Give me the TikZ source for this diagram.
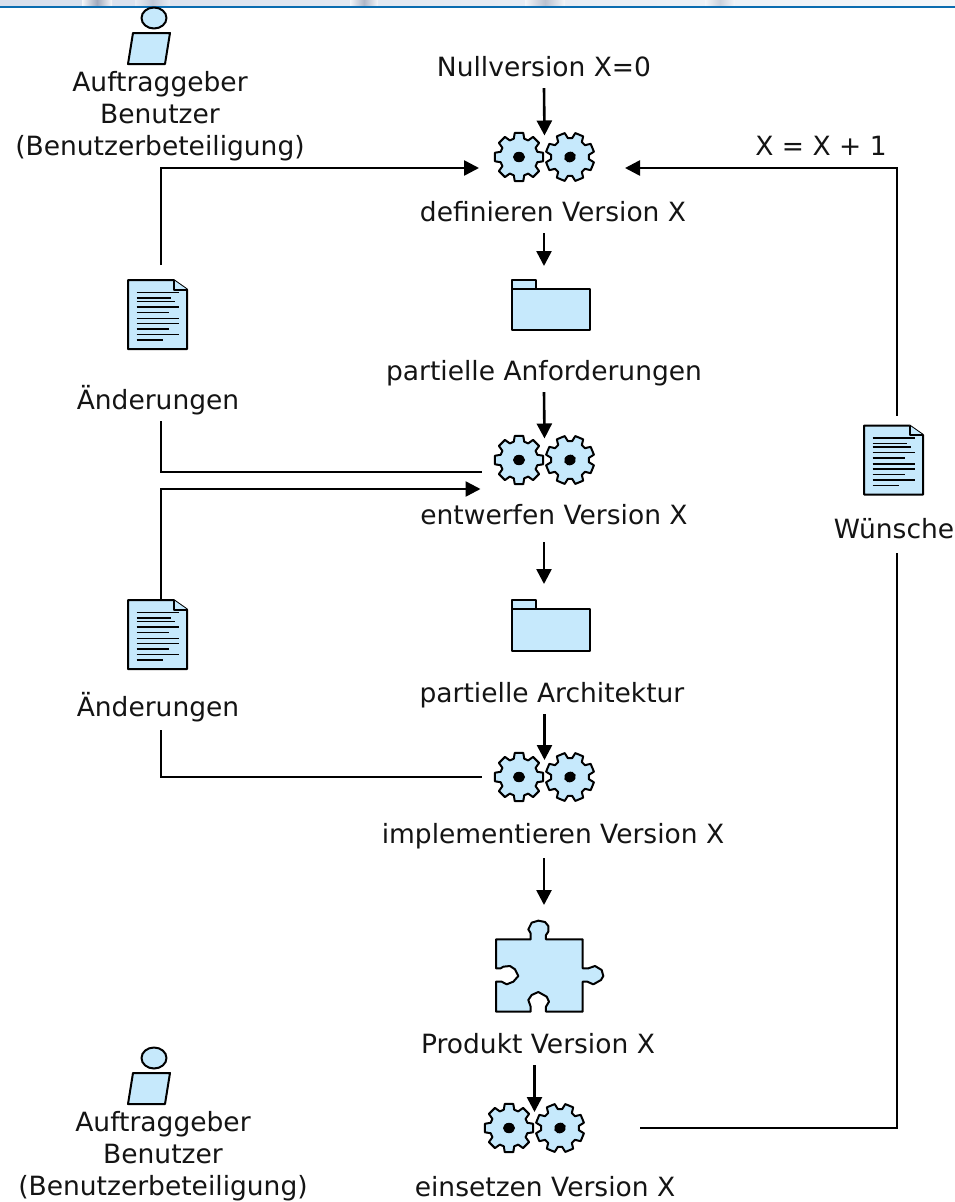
\documentclass[tikz,border=0pt]{standalone}
\usepackage{fontspec}
\setmainfont{DejaVu Sans}
\usetikzlibrary{arrows.meta,calc}
\definecolor{iconblue}{HTML}{C6E9FC}
\definecolor{banner}{HTML}{0A6CB0}
\definecolor{stripl}{HTML}{D8DFEC}
\definecolor{stripr}{HTML}{F4F7FA}
\definecolor{spot}{HTML}{8F97AC}
\tikzset{
  x=1pt,y=-1pt,
  lbl/.style={font=\fontsize{26.5}{32}\selectfont,inner sep=0pt,align=center,text=black!92},
  flbl/.style={lbl,minimum height=42pt,text height=23.5pt,text depth=5.5pt},
  icon/.style={inner sep=0pt,outer sep=0pt},
  ln/.style={line width=2.6pt,black},
  arr/.style={ln,-{Triangle[length=15pt,width=15pt]}},
  shp/.style={draw=black,fill=iconblue,line width=2pt,line join=round},
  txtl/.style={line width=1.8pt,black},
  gearone/.pic={
    \draw[shp] \foreach \a [count=\i] in {0,45,...,315}{
      \ifnum\i=1 ($(\a-10:24.5)$) \else -- ($(\a-10:24.5)$) \fi
      -- ($(\a+10:24.5)$) -- ($(\a+16:19)$) -- ($(\a+29:19)$)
    } -- cycle;
    \fill[black] (0,0) ellipse[x radius=6,y radius=5.2];
  },
  gearpair/.pic={
    \pic at (-25.5,0) {gearone};
    \pic[rotate=22.5] at (25.5,0) {gearone};
  },
  docicon/.pic={
    \draw[shp] (-29.5,-34.5) -- (16,-34.5) -- (29.5,-25) -- (29.5,34.5) -- (-29.5,34.5) -- cycle;
    \draw[shp] (16,-34.5) -- (16,-25) -- (29.5,-25);
    \foreach \y/\e in {-22/21,-16.5/13,-13/17,-7.5/21,-2/11,4/21,9/21,14.5/11,20/21,25.5/5}
      \draw[txtl] (-21,\y) -- (\e,\y);
  },
  foldericon/.pic={
    \draw[shp] (-32,-25.5) -- (-8,-25.5) -- (-8,-16.5) -- (-32,-16.5) -- cycle;
    \draw[shp] (-32,-16.5) -- (46,-16.5) -- (46,25) -- (-32,25) -- cycle;
  },
  actoricon/.pic={
    \draw[shp] (0,-15.5) ellipse[x radius=12.5,y radius=10.5];
    \draw[shp] (-21,-0.5) -- (16,-0.5) -- (11,30.5) -- (-26,30.5) -- cycle;
  },
  spotfill/.style={left color=spot!0,right color=spot!0,middle color=spot,opacity=.75},
}
\begin{document}
\begin{tikzpicture}
\useasboundingbox (0,0) rectangle (955,1202);
\fill[white] (0,0) rectangle (955,1202);
\shade[left color=stripl,right color=stripr] (0,0) rectangle (955,6);
\path[spotfill] (82,0) rectangle (112,6);
\path[spotfill,opacity=.35] (135,0) rectangle (170,6);
\path[spotfill,opacity=.6] (350,0) rectangle (378,6);
\path[spotfill,opacity=.5] (525,0) rectangle (565,6);
\path[spotfill,opacity=.35] (705,0) rectangle (735,6);
\fill[banner] (0,6) rectangle (955,8);

% icon anchors
\node[icon,minimum width=131pt,minimum height=43pt] (g1) at (544.5,157) {};
\node[icon,minimum width=131pt,minimum height=43pt] (g2) at (544.5,460) {};
\node[icon,minimum width=131pt,minimum height=43pt] (g3) at (544.5,777) {};
\node[icon,minimum width=211pt,minimum height=43pt] (g4) at (534.5,1128) {};
\node[icon,minimum width=78pt,minimum height=78pt] (f1) at (544,305) {};
\node[icon,minimum width=78pt,minimum height=78pt] (f2) at (544,625.5) {};
\node[icon,minimum width=66pt,minimum height=69pt] (d1) at (161,314.5) {};
\node[icon,minimum width=66pt,minimum height=69pt] (d2) at (161,634.5) {};
\node[icon,minimum width=66pt,minimum height=69pt] (d3) at (897,460) {};
\node[icon,minimum width=110pt,minimum height=122pt] (pz) at (544,966) {};

\pic at (g1) {gearpair};
\pic at (g2) {gearpair};
\pic at (g3) {gearpair};
\pic at (g4) {gearpair};
\pic at (f1) {foldericon};
\pic at (f2) {foldericon};
\pic at (157.5,314.5) {docicon};
\pic at (157.5,634.5) {docicon};
\pic at (893.5,460) {docicon};
\pic at (154,33.5) {actoricon};
\pic at (154,1073.5) {actoricon};

% puzzle
\begin{scope}[shift={(480,900)},x=0.3333pt,y=-0.3333pt]
\draw[shp] (48,118) -- (152,118) -- (152,100) -- (145,88) -- (155,68) -- (175,62) -- (195,66) -- (205,78) -- (205,95) -- (198,105) -- (198,118) -- (308,118) -- (308,205) -- (325,205) -- (345,198) -- (365,210) -- (370,228) -- (363,240) -- (340,253) -- (322,245) -- (308,245) -- (308,335) -- (198,335) -- (198,320) -- (207,305) -- (200,290) -- (175,276) -- (155,285) -- (145,300) -- (152,320) -- (152,335) -- (48,335) -- (48,245) -- (65,245) -- (80,253) -- (100,245) -- (115,228) -- (105,208) -- (90,198) -- (70,200) -- (62,205) -- (48,205) -- cycle;
\end{scope}

% labels
\node[flbl] (nv) at (544,67) {Nullversion X=0};
\node[flbl] (xx) at (821,146) {X = X + 1};
\node[lbl] (a1) at (160,116) {Auftraggeber\\Benutzer\\(Benutzerbeteiligung)};
\node[lbl] (a2) at (163,1156.5) {Auftraggeber\\Benutzer\\(Benutzerbeteiligung)};
\node[flbl] (l1) at (553,212) {definieren Version X};
\node[flbl] (l2) at (544,371) {partielle Anforderungen};
\node[flbl] (l3) at (554,515) {entwerfen Version X};
\node[flbl] (l4) at (552,693) {partielle Architektur};
\node[flbl] (l5) at (553,834) {implementieren Version X};
\node[flbl] (l6) at (538,1044) {Produkt Version X};
\node[flbl] (l7) at (545,1187) {einsetzen Version X};
\node[flbl] (c1) at (158,400) {Änderungen};
\node[flbl] (c2) at (158,707) {Änderungen};
\node[flbl] (w) at (894,529) {Wünsche};

% vertical flow
\draw[arr] (nv.south) -- (g1.north);
\draw[arr] (l1.south -| f1) -- (f1.north);
\draw[arr] (l2.south) -- (g2.north);
\draw[arr,shorten <=6pt,shorten >=2.5pt] (l3.south -| f2) -- (f2.north);
\draw[arr,shorten >=-4.5pt] (l4.south -| g3) -- (g3.north);
\draw[arr,shorten <=3pt] (l5.south -| pz) -- (pz.north);
\draw[arr,shorten >=-5.5pt] (l6.south -| g4) -- (g4.north);
% loops
\draw[arr,shorten <=15pt] (d1.north) |- ($(g1.west)+(0,11)$);
\draw[arr,shorten <=10pt,shorten >=15pt] (d3.north) |- ($(g1.east)+(0,11)$);
\draw[ln,shorten >=-3pt] (c1.south -| d1) |- ($(g2.west)+(0,12)$);
\draw[arr,shorten >=-1.5pt] (d2.north) |- ($(g2.west)+(0,29)$);
\draw[ln,shorten <=2pt,shorten >=-3pt] (c2.south -| d2) |- (g3.west);
\draw[ln,shorten <=3pt] (w.south -| d3) |- (g4.east);
\end{tikzpicture}
\end{document}
